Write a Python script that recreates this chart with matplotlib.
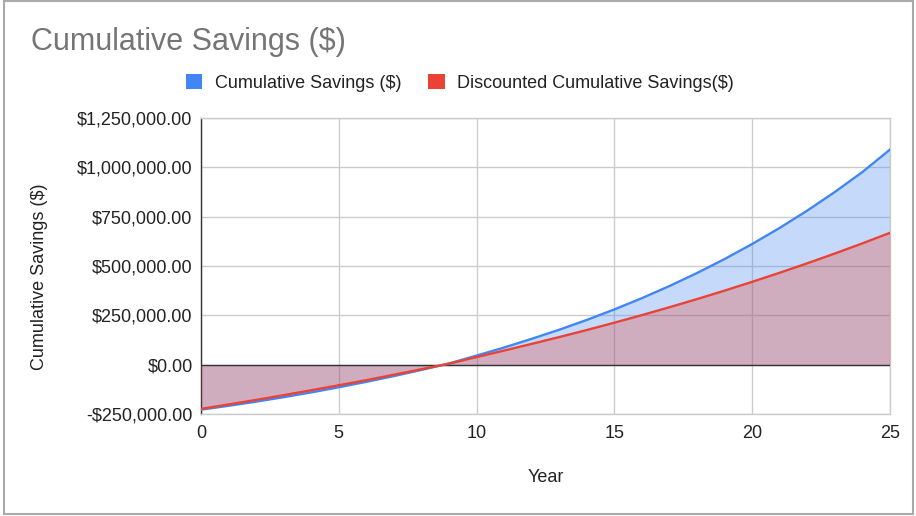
import matplotlib
matplotlib.use("Agg")
import matplotlib.pyplot as plt
from matplotlib.patches import Rectangle, Patch
from matplotlib.ticker import FuncFormatter, FixedLocator

plt.rcParams['font.family'] = ['Liberation Sans', 'DejaVu Sans']

years = list(range(0, 26))
cumulative = [-228000, -208400, -187400, -164700, -140500, -114400, -87000, -57800,
              -26500, 6000, 46000, 87000, 131000, 177100, 226700, 280000, 337200,
              398600, 464500, 535400, 611500, 693200, 781000, 875200, 976400, 1090000]
discounted = [-224000, -201700, -178600, -154600, -129700, -104500, -78500, -51000,
              -23000, 5000, 38500, 71500, 105400, 139900, 175600, 212700, 251200,
              291100, 332400, 375300, 419800, 465900, 513700, 563300, 614700, 668100]
series_names = ["Cumulative Savings ($)", "Discounted Cumulative Savings($)"]
y_ticks = [-250000, 0, 250000, 500000, 750000, 1000000, 1250000]
x_ticks = [0, 5, 10, 15, 20, 25]

BLUE = "#4285F4"
RED = "#EA4335"

W, H = 916, 516
fig = plt.figure(figsize=(W / 100, H / 100), dpi=100)

# outer frame
fig.patches.append(Rectangle((4 / W, 1 - 514 / H), (913 - 4) / W, (514 - 1) / H,
                             transform=fig.transFigure, fill=False,
                             edgecolor="#AAAAAA", linewidth=1.5))

ax = fig.add_axes([201 / W, 1 - 414 / H, (890 - 201) / W, (414 - 118) / H])

ax.fill_between(years, cumulative, 0, color=BLUE, alpha=0.3, linewidth=0, zorder=2)
ax.fill_between(years, discounted, 0, color=RED, alpha=0.3, linewidth=0, zorder=3)
ax.plot(years, cumulative, color=BLUE, linewidth=1.7, zorder=5)
ax.plot(years, discounted, color=RED, linewidth=1.7, zorder=6)
ax.axhline(0, color="#333333", linewidth=1.0, zorder=4)

ax.set_xlim(0, 25)
ax.set_ylim(-250000, 1250000)
ax.yaxis.set_major_locator(FixedLocator(y_ticks))
ax.xaxis.set_major_locator(FixedLocator(x_ticks))


def money(v, pos=None):
    s = "${:,.2f}".format(abs(v))
    return "-" + s if v < 0 else s


ax.yaxis.set_major_formatter(FuncFormatter(money))
ax.grid(True, color="#CCCCCC", linewidth=1.0, zorder=0)
ax.set_axisbelow(True)
ax.tick_params(length=0, labelsize=13, colors="#222222", pad=6)
ax.tick_params(axis="x", pad=8)

for side in ["top", "right", "bottom"]:
    ax.spines[side].set_color("#CCCCCC")
    ax.spines[side].set_linewidth(1.0)
ax.spines["left"].set_color("#333333")
ax.spines["left"].set_linewidth(1.0)

fig.text(40 / W, 1 - 277 / H, "Cumulative Savings ($)", rotation=90,
         ha="center", va="center", fontsize=13, color="#222222")
fig.text(546 / W, 1 - 478 / H, "Year", ha="center", va="center",
         fontsize=13, color="#222222")
fig.text(31 / W, 1 - 42 / H, "Cumulative Savings ($)", ha="left", va="center",
         fontsize=22, color="#757575")

handles = [Patch(facecolor=BLUE, edgecolor="none"), Patch(facecolor=RED, edgecolor="none")]
fig.legend(handles, series_names, loc="center", bbox_to_anchor=(460 / W, 1 - 83 / H),
           ncol=2, frameon=False, fontsize=13, handlelength=0.9, handleheight=0.9,
           handletextpad=0.7, columnspacing=1.5, labelcolor="#222222")

fig.savefig("out.png", dpi=100)
